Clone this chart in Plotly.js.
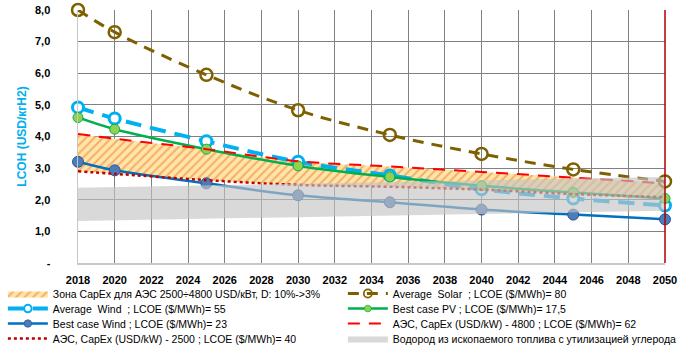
<!DOCTYPE html>
<html>
<head>
<meta charset="utf-8">
<script src="https://cdn.plot.ly/plotly-3.0.1.min.js"></script>
<style>
html,body{margin:0;padding:0;background:#fff;}
#chart{width:691px;height:345px;}
</style>
</head>
<body>
<div id="chart"></div>
<script>
// ---- data ----
const years = [2018, 2020, 2025, 2030, 2035, 2040, 2045, 2050];
const avgSolar = [8.0, 7.3, 5.95, 4.83, 4.05, 3.45, 2.96, 2.58];
const avgWind = [4.92, 4.57, 3.85, 3.2, 2.77, 2.33, 2.04, 1.82];
const bestPV = [4.6, 4.23, 3.6, 3.07, 2.72, 2.44, 2.23, 2.04];
const bestWind = [3.2, 2.93, 2.52, 2.14, 1.92, 1.69, 1.53, 1.38];
const npp4800 = [4.08, 3.93, 3.6, 3.22, 3.05, 2.88, 2.7, 2.52];
const npp2500 = [2.9, 2.82, 2.62, 2.47, 2.41, 2.32, 2.18, 2.08];
const fossilYears = [2018, 2050];
const fossilLow = [1.33, 1.65];
const fossilHigh = [2.38, 2.72];

const xTicks = [2018,2020,2022,2024,2026,2028,2030,2032,2034,2036,2038,2040,2042,2044,2046,2048,2050];
const yTicks = [0,1,2,3,4,5,6,7,8];
const yTickText = ['-','1,0','2,0','3,0','4,0','5,0','6,0','7,0','8,0'];
const topTicks = [2023, 2028, 2033, 2038, 2043, 2048];

const names = {
  zone: 'Зона CapEx для АЭС 2500÷4800 USD/кВт, D: 10%->3%',
  solar: 'Average  Solar  ; LCOE ($/MWh)= 80',
  wind: 'Average  Wind  ; LCOE ($/MWh)= 55',
  pv: 'Best case PV ; LCOE ($/MWh)= 17,5',
  bwind: 'Best case Wind ; LCOE ($/MWh)= 23',
  n4800: 'АЭС, CapEx (USD/kW) - 4800 ; LCOE ($/MWh)= 62',
  n2500: 'АЭС, CapEx (USD/kW) - 2500 ; LCOE ($/MWh)= 40',
  fossil: 'Водород из ископаемого топлива с утилизацией углерода'
};

const traces = [
  {x: years, y: npp2500, mode:'lines', line:{width:0, shape:'spline'}, showlegend:false, hoverinfo:'skip'},
  {x: years, y: npp4800, mode:'lines', name: names.zone, legendrank:1, fill:'tonexty',
   line:{width:0, shape:'spline'}, fillcolor:'#FFE3A3',
   fillpattern:{shape:'/', fgcolor:'#F6AE6A', bgcolor:'#FFE6A8', size:6, solidity:0.35}},
  {x: years, y: avgSolar, mode:'lines+markers', name: names.solar, legendrank:2, cliponaxis:false,
   line:{color:'#7F6000', width:3, dash:'11px,8px', shape:'spline'},
   marker:{symbol:'circle', size:12, color:'rgba(255,255,255,0)', line:{color:'#7F6000', width:2.5}}},
  {x: years, y: avgWind, mode:'lines+markers', name: names.wind, legendrank:3, cliponaxis:false,
   line:{color:'#00B0F0', width:4, dash:'16px,9px', shape:'spline'},
   marker:{symbol:'circle', size:11, color:'#FFFFFF', line:{color:'#00B0F0', width:3}}},
  {x: years, y: bestPV, mode:'lines+markers', name: names.pv, legendrank:4, cliponaxis:false,
   line:{color:'#00B050', width:2.5, shape:'spline'},
   marker:{symbol:'circle', size:10, color:'#92D050', line:{color:'#00B050', width:1}}},
  {x: years, y: bestWind, mode:'lines+markers', name: names.bwind, legendrank:5, cliponaxis:false,
   line:{color:'#0070C0', width:2.5, shape:'spline'},
   marker:{symbol:'circle', size:11, color:'#4A7EBB', line:{color:'#2F4F8F', width:1}}},
  {x: years, y: npp4800, mode:'lines', name: names.n4800, legendrank:6,
   line:{color:'#FF0000', width:2, dash:'12px,9px', shape:'spline'}},
  {x: years, y: npp2500, mode:'lines', name: names.n2500, legendrank:7,
   line:{color:'#C00000', width:2.5, dash:'dot', shape:'spline'}},
  {x: fossilYears, y: fossilLow, mode:'lines', line:{width:0}, showlegend:false, hoverinfo:'skip'},
  {x: fossilYears, y: fossilHigh, mode:'lines', name: names.fossil, legendrank:8, fill:'tonexty',
   line:{width:0}, fillcolor:'rgba(195,195,195,0.64)'}
];

const layout = {
  width: 691, height: 345,
  margin: {l:78, r:26, t:10, b:82, autoexpand:false},
  paper_bgcolor:'#FFFFFF', plot_bgcolor:'#FFFFFF',
  font: {family:'Liberation Sans, Arial, sans-serif', color:'#000'},
  xaxis: {
    range:[2018, 2050], tickvals: xTicks, ticktext: xTicks.map(String),
    showgrid:true, gridcolor:'#808080', gridwidth:1,
    showline:true, linecolor:'#C8C8C8', linewidth:1.5,
    zeroline:false, ticks:'', ticklabelstandoff:6,
    tickfont:{size:11, family:'Liberation Sans, Arial, sans-serif', weight:'bold', color:'#000'}
  },
  xaxis2: {
    overlaying:'x', side:'top', range:[2018,2050], tickvals: topTicks,
    showticklabels:false, ticks:'outside', ticklen:3, tickcolor:'#00B0F0', tickwidth:1,
    showgrid:false, showline:false, zeroline:false
  },
  yaxis: {
    range:[0, 8], tickvals: yTicks, ticktext: yTickText,
    showgrid:true, gridcolor:'#808080', gridwidth:1,
    showline:true, linecolor:'#C8C8C8', linewidth:1.5,
    zeroline:false, ticks:'', ticklabelstandoff:24,
    tickfont:{size:11, family:'Liberation Sans, Arial, sans-serif', weight:'bold', color:'#000'},
    title:{text:'LCOH (USD/кгH2)', standoff:6,
      font:{size:12, family:'Liberation Sans, Arial, sans-serif', weight:'bold', color:'#00B0F0'}}
  },
  shapes: [
    {type:'line', xref:'paper', yref:'paper', x0:1, x1:1, y0:0, y1:1, line:{color:'#B00000', width:1.5}}
  ],
  showlegend:true,
  legend: {
    orientation:'h', x:-0.128, xanchor:'left', y:-0.095, yanchor:'top',
    entrywidth:270, entrywidthmode:'pixels', itemwidth:40,
    traceorder:'normal', bgcolor:'rgba(0,0,0,0)',
    font:{size:10.5, family:'Liberation Sans, Arial, sans-serif', color:'#000'}
  }
};

Plotly.newPlot('chart', traces, layout, {staticPlot:true}).then(function(gd){
  // arrange legend entries as 2 columns x 4 rows with 15px row spacing (as in reference)
  const items = Array.from(document.querySelectorAll('#chart .legend .traces'));
  let x0 = null, y0 = null;
  items.forEach(function(el, i){
    const t = el.getAttribute('transform') || '';
    const m = t.match(/translate\(\s*([-\d.]+)[ ,]+([-\d.]+)\s*\)/);
    if(!m) return;
    if(x0 === null){ x0 = parseFloat(m[1]); y0 = parseFloat(m[2]) - 8; }
    const col = i % 2, row = Math.floor(i / 2);
    el.setAttribute('transform', 'translate(' + (x0 + col*340) + ',' + (y0 + row*15) + ')');
  });
  // smaller legend markers, as in the reference
  document.querySelectorAll('#chart .legend .legendpoints path.scatterpts').forEach(function(p){
    const t = p.getAttribute('transform') || '';
    p.setAttribute('transform', t + ' scale(0.68)');
  });
  document.querySelectorAll('#chart .legend .scrollbox').forEach(function(el){ el.removeAttribute('clip-path'); });
  document.querySelectorAll('#chart .legend .scrollbar').forEach(function(el){ el.style.display = 'none'; });
});
</script>
</body>
</html>
